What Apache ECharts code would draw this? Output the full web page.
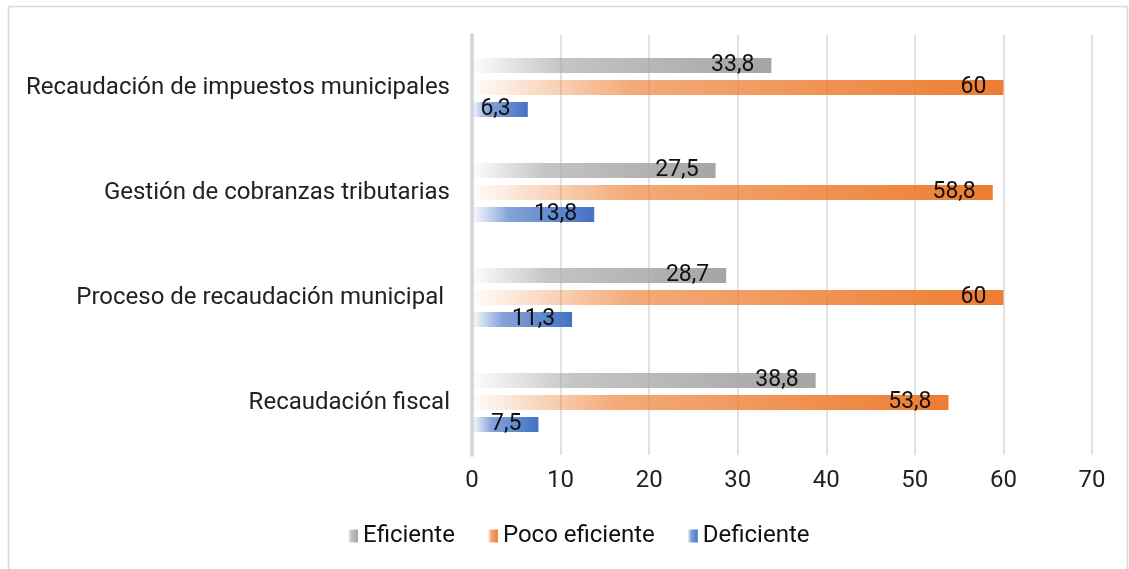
<!DOCTYPE html>
<html><head><meta charset="utf-8">
<script src="https://cdn.jsdelivr.net/npm/echarts@6/dist/echarts.min.js"></script>
<style>html,body{margin:0;padding:0;background:#fff}#c{width:1129px;height:569px}</style>
</head><body><div id="c"></div>
<script>
const categories = ['Recaudación de impuestos municipales','Gestión de cobranzas tributarias','Proceso de recaudación municipal ','Recaudación fiscal'];
const eficiente = [33.8, 27.5, 28.7, 38.8];
const pocoEficiente = [60, 58.8, 60, 53.8];
const deficiente = [6.3, 13.8, 11.3, 7.5];
const seriesNames = ['Eficiente','Poco eficiente','Deficiente'];
const xTicks = [0,10,20,30,40,50,60,70];

function grad(r,g,b){
  return {type:'linear',x:0,y:0,x2:1,y2:0,colorStops:[
    {offset:0,color:`rgba(${r},${g},${b},0.02)`},
    {offset:0.3,color:`rgba(${r},${g},${b},0.65)`},
    {offset:1,color:`rgba(${r},${g},${b},1)`}]};
}
const colors = [grad(165,165,165), grad(237,125,49), grad(68,114,196)];
const font = 'Roboto, "Liberation Sans", sans-serif';
function mk(name, data, col){
  return {name, type:'bar', data, barWidth:15, barGap:'47%',
    itemStyle:{color:col},
    label:{show:true, position:'insideRight', distance:17, color:'#111', fontSize:23, fontFamily:font,
      formatter:p=>String(p.value).replace('.',',')}};
}
const chart = echarts.init(document.getElementById('c'));
chart.setOption({
  animation:false,
  graphic:[{type:'rect',shape:{x:8.5,y:6.5,width:1119,height:570},style:{fill:'none',stroke:'#d9d9d9',lineWidth:1.5},silent:true}],
  grid:{left:472,right:37,top:35,bottom:114},
  legend:{bottom:16,left:343,itemWidth:10,itemHeight:13,itemGap:33,icon:'rect',
    textStyle:{fontSize:24,fontFamily:font,color:'#111',padding:[0,0,0,0]},
    data:seriesNames},
  xAxis:{type:'value',min:0,max:70,interval:10,
    axisLine:{show:false},axisTick:{show:false},
    splitLine:{lineStyle:{color:'#d9d9d9',width:1.5}},
    axisLabel:{fontSize:24,fontFamily:font,color:'#222',margin:14,formatter:v=>xTicks.includes(v)?String(v):''}},
  yAxis:{type:'category',data:categories,inverse:true,
    axisLine:{show:true,lineStyle:{color:'#d9d9d9',width:4}},axisTick:{show:false},
    axisLabel:{fontSize:24,fontFamily:font,color:'#222',margin:22}},
  series:[mk(seriesNames[0],eficiente,colors[0]),mk(seriesNames[1],pocoEficiente,colors[1]),mk(seriesNames[2],deficiente,colors[2])]
});
</script></body></html>
